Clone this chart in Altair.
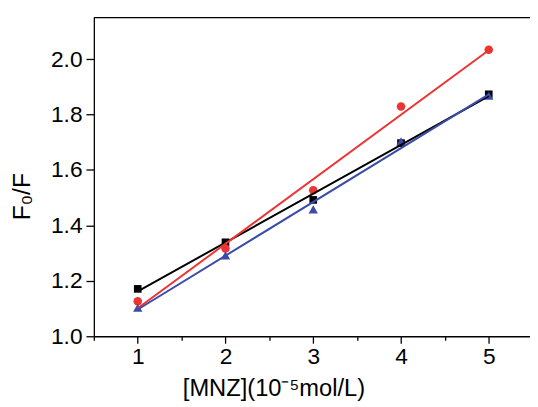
import altair as alt
import pandas as pd

x_vals = [1, 2, 3, 4, 5]
black_sq = [1.171, 1.339, 1.492, 1.697, 1.873]
red_circ = [1.126, 1.317, 1.527, 1.829, 2.034]
blue_tri = [1.103, 1.292, 1.458, 1.703, 1.868]

series_names = ["A", "B", "C"]
series_vals = [black_sq, red_circ, blue_tri]
colors = ["#000000", "#ee3333", "#3a4ca8"]
shapes = ["square", "circle", "triangle-up"]
sizes = [60, 90, 80]

rows = []
for name, vals in zip(series_names, series_vals):
    for xv, yv in zip(x_vals, vals):
        rows.append({"x": xv, "y": yv, "s": name})
df = pd.DataFrame(rows)

x_ticks = [0.5, 1, 1.5, 2, 2.5, 3, 3.5, 4, 4.5, 5]
y_ticks = [1.0, 1.1, 1.2, 1.3, 1.4, 1.5, 1.6, 1.7, 1.8, 1.9, 2.0, 2.1]

W, H = 442, 323
FONT = "Liberation Sans"

xscale = alt.Scale(domain=[0.5, 5.47], nice=False, zero=False)
yscale = alt.Scale(domain=[1.0, 2.15], nice=False, zero=False)
color = alt.Color("s:N", scale=alt.Scale(domain=series_names, range=colors), legend=None)
shape = alt.Shape("s:N", scale=alt.Scale(domain=series_names, range=shapes), legend=None)
size = alt.Size("s:N", scale=alt.Scale(domain=series_names, range=sizes), legend=None)

xaxis = alt.Axis(
    values=x_ticks, title="[MNZ](10⁻⁵mol/L)", grid=False,
    labelExpr="datum.value % 1 == 0 ? format(datum.value, 'd') : ''",
    tickSize={"condition": {"test": "datum.value % 1 == 0", "value": 7}, "value": 4},
    labelFontSize=23, titleFontSize=24, labelFont=FONT, titleFont=FONT,
    titleFontWeight="normal", labelColor="#000", titleColor="#000",
    domainColor="#000", tickColor="#000", domainWidth=1.3, tickWidth=1.3,
    labelPadding=3, titleX=182, titleY=53, titleBaseline="middle", titleAlign="center",
)
yaxis = alt.Axis(
    values=y_ticks, title="F₀/F", grid=False,
    labelExpr="round(datum.value*10) % 2 == 0 ? format(datum.value, '.1f') : ''",
    tickSize={"condition": {"test": "round(datum.value*10) % 2 == 0", "value": 8}, "value": 4},
    labelFontSize=23, titleFontSize=25, labelFont=FONT, titleFont=FONT,
    titleFontWeight="normal", labelColor="#000", titleColor="#000",
    domainColor="#000", tickColor="#000", domainWidth=1.3, tickWidth=1.3,
    labelPadding=4, titleX=-73, titleY=181, titleBaseline="middle", titleAlign="center",
)

base = alt.Chart(df)

lines = base.transform_regression(
    "x", "y", groupby=["s"], extent=[1, 5]
).mark_line(strokeWidth=2).encode(
    x=alt.X("x:Q", scale=xscale, axis=xaxis),
    y=alt.Y("y:Q", scale=yscale, axis=yaxis),
    color=color,
)

points = base.mark_point(filled=True, opacity=1).encode(
    x=alt.X("x:Q", scale=xscale),
    y=alt.Y("y:Q", scale=yscale),
    color=color,
    shape=shape,
    size=size,
)

top = alt.Chart(pd.DataFrame({"a": [0]})).mark_rule(color="#000", strokeWidth=1.3).encode(
    x=alt.value(0), x2=alt.value(W), y=alt.value(0)
)

chart = alt.layer(points, lines, top).properties(
    width=W, height=H,
    autosize=alt.AutoSizeParams(type="none"),
    padding={"left": 87, "top": 7, "right": 0, "bottom": 68},
).configure_view(stroke=None)

chart.save("out.html", embed_options={"renderer": "svg", "actions": False})
